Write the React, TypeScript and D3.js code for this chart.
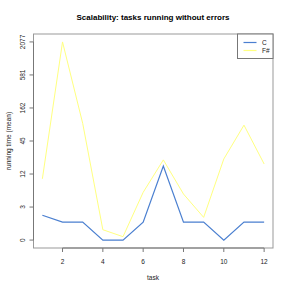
import React from "react";
import * as d3 from "d3";

const tasks = [1, 2, 3, 4, 5, 6, 7, 8, 9, 10, 11, 12];
const cValues = [1.6, 1, 1, 0, 0, 1, 16.4, 1, 1, 0, 1, 1];
const fsValues = [9.6, 2077, 89, 0.49, 0.14, 5.3, 21, 4.9, 1.4, 21.8, 83, 17.8];
const yTickLabels = ["0", "3", "12", "45", "162", "581", "2077"];
const xTicks = [2, 4, 6, 8, 10, 12];
const seriesNames = ["C", "F#"];
const seriesColors = ["#4a7fd0", "#ffff80"];

const W = 291;
const H = 291;
const left = 33.5, right = 273, top = 34, bottom = 248;
const maxV = 2077;
const nTicks = yTickLabels.length - 1;
const tf = (v: number) => (Math.log1p(v) / Math.log1p(maxV)) * nTicks;

export default function App() {
  const x = d3.scaleLinear().domain([1, 12]).range([left, right]);
  const span = 11 * 0.04;
  x.domain([1 - span, 12 + span]);
  const ypad = nTicks * 0.04;
  const y = d3.scaleLinear().domain([-ypad, nTicks + ypad]).range([bottom, top]);
  const line = (vals: number[]) =>
    d3.line<number>().x((_, i) => x(tasks[i])).y((v) => y(tf(v)))(vals) || "";
  const axisColor = "#777";
  const font = "Liberation Sans, Arial, sans-serif";
  return (
    <svg width={W} height={H} style={{ position: "absolute", left: 0, top: 0 }}>
      <rect width={W} height={H} fill="#fff" />
      <text x={153} y={20} textAnchor="middle" fontFamily={font} fontWeight="bold" fontSize={8}>
        Scalability: tasks running without errors
      </text>
      <rect x={left} y={top} width={right - left} height={bottom - top} fill="none" stroke="#999" strokeWidth={1} />
      {/* y axis */}
      <line x1={left} x2={left} y1={y(0)} y2={y(nTicks)} stroke={axisColor} />
      {yTickLabels.map((lab, i) => (
        <g key={lab}>
          <line x1={left - 4} x2={left} y1={y(i)} y2={y(i)} stroke={axisColor} />
          <text
            transform={`translate(${left - 9},${y(i)}) rotate(-90)`}
            textAnchor="middle"
            fontFamily={font}
            fontSize={6.5}
            fill="#222"
          >
            {lab}
          </text>
        </g>
      ))}
      {/* x axis */}
      <line x1={x(2)} x2={x(12)} y1={bottom} y2={bottom} stroke={axisColor} />
      {xTicks.map((t) => (
        <g key={t}>
          <line x1={x(t)} x2={x(t)} y1={bottom} y2={bottom + 4} stroke={axisColor} />
          <text x={x(t)} y={bottom + 16} textAnchor="middle" fontFamily={font} fontSize={6.5} fill="#222">
            {t}
          </text>
        </g>
      ))}
      <text x={153} y={280} textAnchor="middle" fontFamily={font} fontSize={6.5} fill="#222">
        task
      </text>
      <text
        transform={`translate(10.5,${(top + bottom) / 2}) rotate(-90)`}
        textAnchor="middle"
        fontFamily={font}
        fontSize={6.5}
        fill="#222"
      >
        running time (mean)
      </text>
      <path d={line(fsValues)} fill="none" stroke={seriesColors[1]} strokeWidth={1} />
      <path d={line(cValues)} fill="none" stroke={seriesColors[0]} strokeWidth={1.2} />
      {/* legend */}
      <rect x={237.5} y={top} width={right - 237.5} height={24.5} fill="#fff" stroke="#777" />
      {seriesNames.map((n, i) => (
        <g key={n}>
          <line x1={243.5} x2={256.5} y1={42.5 + i * 8} y2={42.5 + i * 8} stroke={seriesColors[i]} strokeWidth={1.2} />
          <text x={262} y={45 + i * 8} fontFamily={font} fontSize={6.5} fill="#222">
            {n}
          </text>
        </g>
      ))}
    </svg>
  );
}
